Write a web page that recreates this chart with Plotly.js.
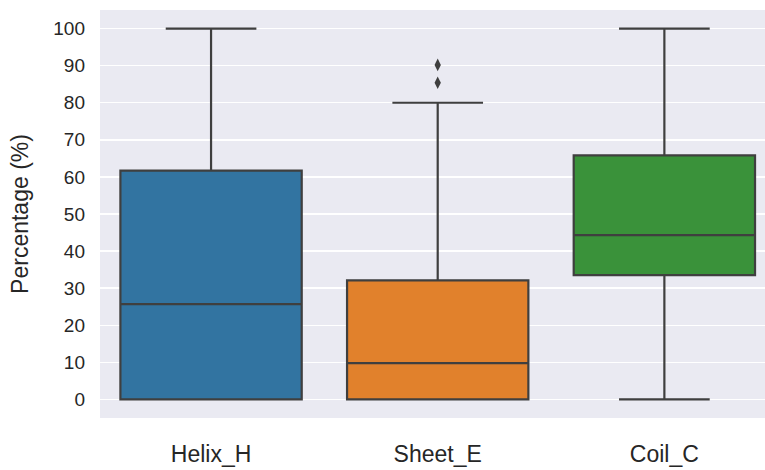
<!DOCTYPE html>
<html>
<head>
<meta charset="utf-8">
<script src="https://cdn.plot.ly/plotly-3.0.1.min.js"></script>
<style>html,body{margin:0;padding:0;background:#fff;}#chart{width:765px;height:470px;}</style>
</head>
<body>
<div id="chart"></div>
<script>
const categories = ["Helix_H", "Sheet_E", "Coil_C"];
const q1Values = [0, 0, 33.5];
const medianValues = [25.7, 9.8, 44.3];
const q3Values = [61.7, 32.1, 65.8];
const lowerWhisker = [0, 0, 0];
const upperWhisker = [100, 80, 100];
const outlierCategory = ["Sheet_E", "Sheet_E"];
const outlierValues = [85.4, 90.2];
const yTicks = [0, 10, 20, 30, 40, 50, 60, 70, 80, 90, 100];
const boxColors = ["#3274a1", "#e1812c", "#3a923a"];

const lineColor = "#3f3f3f";
const traces = categories.map((c, i) => ({
  type: "box",
  name: c,
  x: [c],
  q1: [q1Values[i]],
  median: [medianValues[i]],
  q3: [q3Values[i]],
  lowerfence: [lowerWhisker[i]],
  upperfence: [upperWhisker[i]],
  fillcolor: boxColors[i],
  line: {color: lineColor, width: 2.2},
  whiskerwidth: 0.5,
  boxpoints: false,
  showlegend: false,
  hoverinfo: "skip"
}));
traces.push({
  type: "scatter",
  mode: "markers",
  x: outlierCategory,
  y: outlierValues,
  marker: {symbol: "diamond-tall", size: 9, color: lineColor},
  showlegend: false,
  hoverinfo: "skip"
});

const layout = {
  width: 765,
  height: 470,
  margin: {l: 100, r: 0, t: 10, b: 52},
  paper_bgcolor: "#ffffff",
  plot_bgcolor: "#eaeaf2",
  font: {family: "Liberation Sans, Arial, sans-serif", color: "#262626"},
  boxmode: "overlay",
  boxgap: 0.2,
  boxgroupgap: 0,
  xaxis: {
    type: "category",
    categoryarray: categories,
    categoryorder: "array",
    range: [-0.49, 2.444],
    showgrid: false,
    zeroline: false,
    showline: false,
    ticks: "",
    ticklabelstandoff: 20,
    tickfont: {size: 23, color: "#262626"}
  },
  yaxis: {
    range: [-5, 105],
    tickvals: yTicks,
    ticktext: yTicks.map(String),
    showgrid: true,
    gridcolor: "#ffffff",
    gridwidth: 1.5,
    zeroline: false,
    showline: false,
    ticks: "",
    ticklabelstandoff: 14,
    tickfont: {size: 19, color: "#262626"},
    title: {text: "Percentage (%)", font: {size: 23, color: "#262626"}, standoff: 18}
  }
};

Plotly.newPlot("chart", traces, layout, {displayModeBar: false, staticPlot: true});
</script>
</body>
</html>
